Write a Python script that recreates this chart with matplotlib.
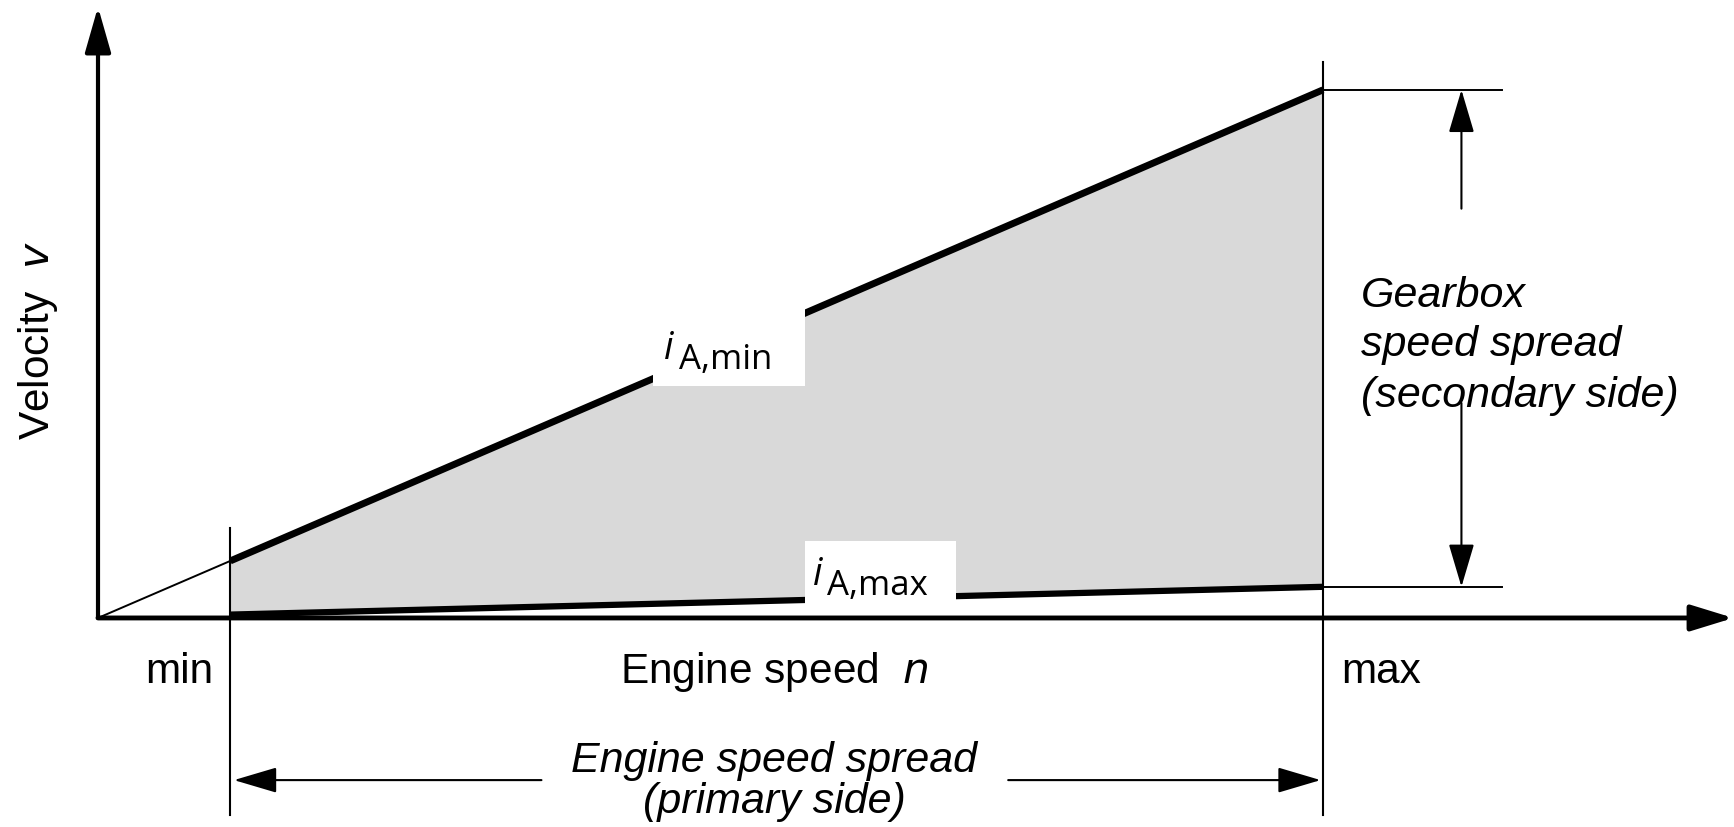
import numpy as np
import matplotlib; matplotlib.use("Agg")
import matplotlib.pyplot as plt
from matplotlib.patches import FancyArrowPatch, Rectangle

plt.rcParams["font.family"] = ["Liberation Sans", "DejaVu Sans"]

# ── Werte ────────────────────────────────────────────────────────────────
n_range   = [1.08, 10.0]      # Motordrehzahl min / max
v_iA_min  = [1.08, 10.0]      # Geschwindigkeit bei i_A,min (Gerade durch Ursprung)
v_iA_max  = [0.064, 0.59]     # Geschwindigkeit bei i_A,max
n_axis_end = 13.35
v_axis_end = 11.57

# ── Abbildung ────────────────────────────────────────────────────────────
fig = plt.figure(figsize=(17.34, 8.28), dpi=100)
ax = fig.add_axes([0, 0, 1, 1])
ax.set_xlim(-0.8, 13.355)
ax.set_ylim(-3.958, 11.72)
ax.axis("off")

def arrow(p0, p1, lw=1.5, hl=27, hw=8):
    ax.add_patch(FancyArrowPatch(p0, p1, arrowstyle=f"-|>,head_length={hl},head_width={hw}",
                                 mutation_scale=1, lw=lw, color="black",
                                 shrinkA=0, shrinkB=0, zorder=5))

# Fläche zwischen den beiden Übersetzungen
ax.fill_between(n_range, v_iA_max, v_iA_min, color="#d9d9d9", lw=0, zorder=1)

# dünne Hilfslinie vom Ursprung
ax.plot([0, n_range[0]], [0, v_iA_min[0]], color="black", lw=1.4, zorder=2)
ax.plot(n_range, v_iA_min, color="black", lw=5, solid_capstyle="butt", zorder=3)
ax.plot(n_range, v_iA_max, color="black", lw=4.5, solid_capstyle="butt", zorder=3)

# Achsen mit Pfeilen
arrow((0, 0), (n_axis_end, 0), lw=3.5, hl=26, hw=8)
arrow((0, 0), (0, v_axis_end), lw=3, hl=28, hw=8)

# senkrechte Begrenzungslinien bei min / max
ax.plot([n_range[0]] * 2, [1.70, -3.73], color="black", lw=1.5, zorder=4)
ax.plot([n_range[1]] * 2, [10.53, -3.73], color="black", lw=1.5, zorder=4)

# waagrechte Hilfslinien rechts
ax.plot([n_range[1], 11.46], [v_iA_min[1]] * 2, color="black", lw=1.4, zorder=4)
ax.plot([n_range[1], 11.46], [v_iA_max[1]] * 2, color="black", lw=1.4, zorder=4)

# Maßpfeile
arrow((11.13, 7.75), (11.13, v_iA_min[1]))
arrow((11.13, 4.07), (11.13, v_iA_max[1]))
arrow((3.62, -3.07), (1.11, -3.07))
arrow((7.43, -3.07), (9.98, -3.07))

# weiße Kästen für Beschriftungen
ax.add_patch(Rectangle((4.53, 4.39), 1.24, 1.65, color="white", lw=0, zorder=6))
ax.add_patch(Rectangle((5.77, 0.27), 1.23, 1.19, color="white", lw=0, zorder=6))

lab_font = ["Open Sans", "DejaVu Sans"]
lab_fs = 25
ax.text(4.62, 4.93, "i", fontsize=27, style="italic", family=lab_font, zorder=7)
ax.text(4.74, 4.73, "A,min", fontsize=lab_fs, family=lab_font, zorder=7)
ax.text(5.84, 0.65, "i", fontsize=27, style="italic", family=lab_font, zorder=7)
ax.text(5.95, 0.45, "A,max", fontsize=lab_fs, family=lab_font, zorder=7)

# Achsbeschriftungen
fs = 30.5
ax.text(5.52, -1.0, "Engine speed  $\\mathit{n}$", fontsize=fs, ha="center", va="center")
ax.text(0.94, -1.0, "min", fontsize=fs, ha="right", va="center")
ax.text(10.15, -1.0, "max", fontsize=fs, ha="left", va="center")
ax.text(-0.49, 5.27, "Velocity  $\\mathit{v}$", fontsize=fs, ha="center", va="center",
        rotation=90)

fs_it = 31
ax.text(5.52, -2.69, "Engine speed spread", fontsize=fs_it, style="italic",
        ha="center", va="center")
ax.text(5.52, -3.47, "(primary side)", fontsize=fs_it, style="italic",
        ha="center", va="center")

for txt, y in zip(["Gearbox", "speed spread", "(secondary side)"], [6.12, 5.18, 4.23]):
    ax.text(10.31, y, txt, fontsize=fs_it, style="italic", ha="left", va="center")

fig.savefig("out.png", dpi=100)
